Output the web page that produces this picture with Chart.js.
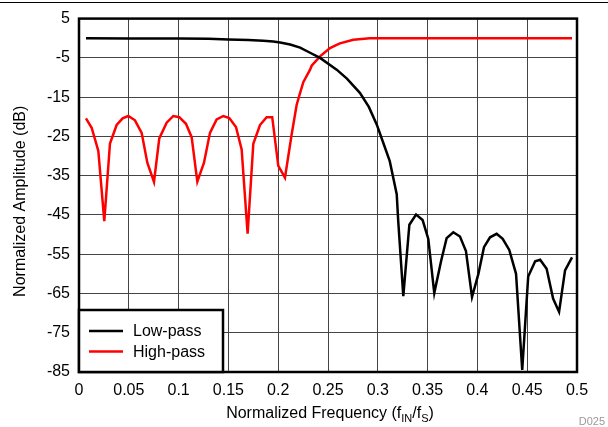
<!DOCTYPE html>
<html>
<head>
<meta charset="utf-8">
<script src="https://cdn.jsdelivr.net/npm/chart.js@4.4.1/dist/chart.umd.min.js"></script>
<style>
  body { margin: 0; background: #fff; }
  #chart { display: block; }
</style>
</head>
<body>
<canvas id="chart" width="608" height="427"></canvas>
<script>
let lowFreq = [0.007, 0.05, 0.1, 0.13, 0.15, 0.17, 0.185, 0.195, 0.202, 0.212, 0.222, 0.232, 0.242, 0.2587, 0.269, 0.282, 0.291, 0.299, 0.306, 0.312, 0.319, 0.3205, 0.3256, 0.3317, 0.3384, 0.345, 0.3507, 0.3567, 0.3635, 0.3691, 0.3758, 0.3825, 0.3885, 0.3946, 0.401, 0.4066, 0.4127, 0.4193, 0.4254, 0.432, 0.4388, 0.445, 0.451, 0.458, 0.463, 0.4695, 0.476, 0.482, 0.488, 0.495];
let lowAmp = [0, -0.05, -0.05, -0.15, -0.3, -0.45, -0.65, -0.85, -1.1, -1.6, -2.4, -3.7, -5.0, -8.0, -10.3, -13.9, -17.5, -22, -27, -31.3, -39.7, -46.5, -65.7, -47.5, -44.9, -46.3, -51.1, -64.9, -56.8, -50.9, -49.4, -50.5, -54.2, -65.9, -60.0, -53.2, -50.7, -49.8, -51.1, -53.9, -60.0, -84.5, -60.7, -56.8, -56.4, -58.7, -66.3, -69.7, -59.1, -55.8];

let highFreq = [0.007, 0.0127, 0.0194, 0.0254, 0.0311, 0.0378, 0.0438, 0.0495, 0.0562, 0.0629, 0.0686, 0.0753, 0.0806, 0.088, 0.0947, 0.1007, 0.1074, 0.1131, 0.1188, 0.1255, 0.1315, 0.1382, 0.1449, 0.1509, 0.1576, 0.1633, 0.1693, 0.175, 0.1817, 0.1884, 0.194, 0.2001, 0.2068, 0.2135, 0.2185, 0.222, 0.2252, 0.232, 0.2336, 0.242, 0.252, 0.2587, 0.262, 0.2754, 0.292, 0.35, 0.4, 0.45, 0.495];
let highAmp = [-20.4, -22.8, -28.7, -46.6, -26.8, -22.1, -20.4, -19.8, -20.9, -24.1, -31.7, -36.6, -25.5, -21.5, -19.8, -20.1, -21.8, -25.2, -36.5, -31.7, -24.1, -20.7, -19.8, -20.3, -22.6, -28.3, -49.8, -26.9, -22.1, -20.1, -20.1, -32.5, -35.5, -24.5, -17.0, -13.9, -11.2, -8.0, -7.0, -4.6, -2.5, -1.7, -1.3, -0.4, 0, 0, 0, 0, 0];

let seriesNames = ["Low-pass", "High-pass"];
let seriesColors = ["#000000", "#ff0000"];

let fontName = "'Liberation Sans', Arial, sans-serif";

function toPoints(xs, ys) {
    let pts = [];
    for (let i = 0; i < xs.length; i++) {
        pts.push({ x: xs[i], y: ys[i] });
    }
    return pts;
}

// frame, legend box, axis titles, top rule
let decorPlugin = {
    id: 'decor',
    afterDraw(chart) {
        let ctx = chart.ctx;
        let a = chart.chartArea;
        ctx.save();

        ctx.strokeStyle = '#000';
        ctx.lineWidth = 1;
        ctx.beginPath();
        ctx.moveTo(0, 2.5);
        ctx.lineTo(chart.width, 2.5);
        ctx.stroke();

        ctx.lineWidth = 2.5;
        ctx.strokeRect(a.left, a.top, a.right - a.left, a.bottom - a.top);

        // legend
        let lx = a.left, ly = a.bottom - 62, lw = 144, lh = 62;
        ctx.fillStyle = '#fff';
        ctx.fillRect(lx, ly, lw, lh);
        ctx.strokeStyle = '#000';
        ctx.lineWidth = 2.5;
        ctx.strokeRect(lx, ly, lw, lh);
        ctx.font = '16px ' + fontName;
        ctx.textBaseline = 'middle';
        ctx.textAlign = 'left';
        for (let i = 0; i < seriesNames.length; i++) {
            let yy = ly + 21 + i * 20.5;
            ctx.strokeStyle = seriesColors[i];
            ctx.lineWidth = 2.5;
            ctx.beginPath();
            ctx.moveTo(lx + 10, yy);
            ctx.lineTo(lx + 44, yy);
            ctx.stroke();
            ctx.fillStyle = '#000';
            ctx.fillText(seriesNames[i], lx + 54, yy + 1);
        }

        // y title
        ctx.save();
        ctx.translate(21, (a.top + a.bottom) / 2 + 6);
        ctx.rotate(-Math.PI / 2);
        ctx.textAlign = 'center';
        ctx.fillStyle = '#000';
        ctx.font = '16px ' + fontName;
        ctx.fillText('Normalized Amplitude (dB)', 0, 0);
        ctx.restore();

        // x title with subscripts
        let parts = [
            ['Normalized Frequency (f', 16, 0],
            ['IN', 11, 4],
            ['/f', 16, 0],
            ['S', 11, 4],
            [')', 16, 0]
        ];
        let total = 0;
        for (let p of parts) {
            ctx.font = p[1] + 'px ' + fontName;
            total += ctx.measureText(p[0]).width;
        }
        let tx = 330 - total / 2;
        ctx.textAlign = 'left';
        ctx.textBaseline = 'alphabetic';
        ctx.fillStyle = '#000';
        for (let p of parts) {
            ctx.font = p[1] + 'px ' + fontName;
            ctx.fillText(p[0], tx, 418 + p[2]);
            tx += ctx.measureText(p[0]).width;
        }

        ctx.font = '11px ' + fontName;
        ctx.fillStyle = '#999';
        ctx.textAlign = 'right';
        ctx.fillText('D025', 605, 425);
        ctx.restore();
    }
};

let marksCanvas = document.getElementById("chart");

let chart = new Chart(marksCanvas, {
    type: 'line',
    data: {
        datasets: [{
            label: seriesNames[0],
            data: toPoints(lowFreq, lowAmp),
            borderColor: seriesColors[0],
            borderWidth: 2.5,
            pointRadius: 0,
            tension: 0
        }, {
            label: seriesNames[1],
            data: toPoints(highFreq, highAmp),
            borderColor: seriesColors[1],
            borderWidth: 2.5,
            pointRadius: 0,
            tension: 0
        }]
    },
    options: {
        responsive: false,
        animation: false,
        layout: { padding: { left: 0, right: 31, top: 17, bottom: 0 } },
        plugins: {
            legend: { display: false },
            tooltip: { enabled: false }
        },
        scales: {
            x: {
                type: 'linear',
                min: 0,
                max: 0.5,
                afterFit: function(s) { s.height = 55; },
                border: { display: false },
                grid: { color: '#444', lineWidth: 1, drawTicks: false },
                ticks: {
                    stepSize: 0.05,
                    padding: 9,
                    color: '#000',
                    font: { family: fontName, size: 16 },
                    callback: function(v) { return String(parseFloat(v.toFixed(2))); }
                }
            },
            y: {
                min: -85,
                max: 5,
                afterFit: function(s) { s.width = 79; },
                border: { display: false },
                grid: { color: '#444', lineWidth: 1, drawTicks: false },
                ticks: {
                    stepSize: 5,
                    padding: 9,
                    color: '#000',
                    font: { family: fontName, size: 16 },
                    callback: function(v) { return Math.round(v - 5) % 10 === 0 ? String(v) : ''; }
                }
            }
        }
    },
    plugins: [decorPlugin]
});
</script>
</body>
</html>
